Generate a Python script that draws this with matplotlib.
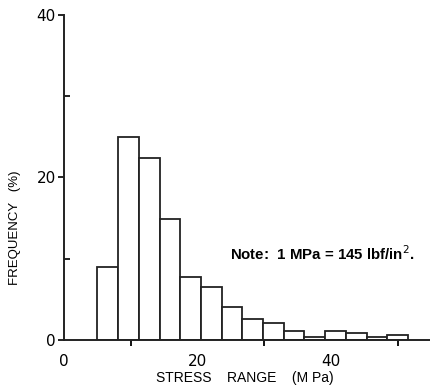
import numpy as np
import matplotlib.pyplot as plt

# histogram of stress ranges
bin_edges = [5.0, 8.1, 11.2, 14.3, 17.4, 20.5, 23.6, 26.7, 29.8, 32.9,
             36.0, 39.1, 42.2, 45.3, 48.4, 51.5]
freq = [9.0, 25.0, 22.4, 14.9, 7.7, 6.5, 4.0, 2.6, 2.1, 1.1,
        0.35, 1.1, 0.85, 0.35, 0.6]
x_labels = [0, 20, 40]
y_labels = [0, 20, 40]

plt.rcParams['font.family'] = ['DejaVu Sans']

fig = plt.figure(figsize=(4.3, 3.88), dpi=100)
ax = fig.add_axes([0.149, 0.124, 0.851, 0.838])

edges = np.array(bin_edges)
ax.bar(edges[:-1], freq, width=np.diff(edges), align='edge',
       facecolor='white', edgecolor='#222222', linewidth=1.3)

ax.set_xlim(0, 54.8)
ax.set_ylim(0, 40)
ax.spines['top'].set_visible(False)
ax.spines['right'].set_visible(False)
for s in ('left', 'bottom'):
    ax.spines[s].set_linewidth(1.4)
    ax.spines[s].set_color('#222222')

ax.set_xticks(x_labels)
ax.set_xticklabels([str(v) for v in x_labels])
ax.set_xticks([10, 20, 30, 40, 50], minor=True)
ax.tick_params(axis='x', which='major', length=0, pad=10, labelsize=11)
ax.tick_params(axis='x', which='minor', direction='out', length=4, width=1.3)

ax.set_yticks(y_labels)
ax.set_yticks([10, 30], minor=True)
ax.tick_params(axis='y', which='major', direction='out', length=4, width=1.2,
               pad=2, labelsize=11)
ax.tick_params(axis='y', which='minor', direction='in', length=4, width=1.2)

ax.set_xlabel('STRESS    RANGE    (M Pa)', fontsize=10, family='Liberation Sans')
ax.xaxis.set_label_coords(0.495, -0.117)
ax.xaxis.label.set_va('center')
ax.set_ylabel('FREQUENCY   (%)', fontsize=9.5, family='Liberation Sans')
ax.yaxis.set_label_coords(-0.134, 0.345)
ax.yaxis.label.set_va('center')

ax.text(24.8, 10.6, 'Note:  1 MPa = 145 lbf/in$^2$.', fontsize=10.8,
        fontweight='bold', family='Liberation Sans', ha='left', va='center')

fig.savefig('out.png', dpi=100)
